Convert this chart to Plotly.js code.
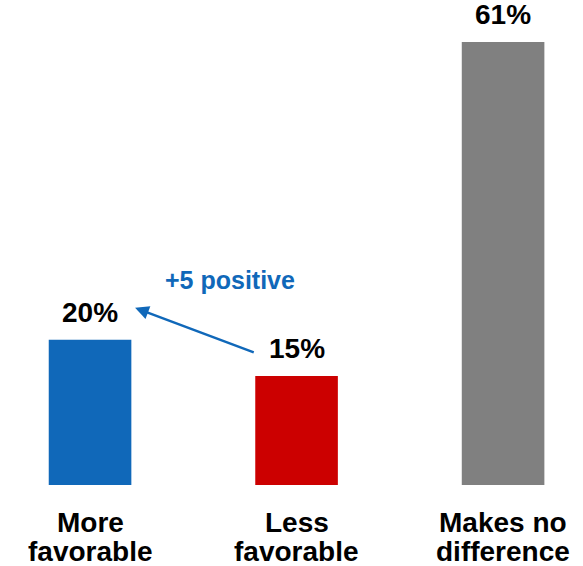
<!DOCTYPE html>
<html><head><meta charset="utf-8">
<script src="https://cdn.plot.ly/plotly-3.0.1.min.js"></script>
<style>html,body{margin:0;padding:0;background:#fff}#chart{width:583px;height:566px}</style>
</head><body><div id="chart"></div>
<script>
const categoryLine1 = ["More", "Less", "Makes no"];
const categoryLine2 = ["favorable", "favorable", "difference"];
const values = [20, 15, 61];
const valueLabels = ["20%", "15%", "61%"];
const barColors = ["#1068B9", "#CC0000", "#808080"];
const changeLabel = "+5 positive";

const xs = [0, 1, 2];
const font = "'Liberation Sans', Arial, sans-serif";

const annotations = xs.map((x, i) => ({
  x: x, y: values[i], xref: 'x', yref: 'y', text: '<b>' + valueLabels[i] + '</b>',
  showarrow: false, yanchor: 'bottom', yshift: 10,
  font: {family: font, size: 28, color: '#000'}
}));
xs.forEach((x, i) => {
  annotations.push({
    x: x, y: 0, xref: 'x', yref: 'paper', text: '<b>' + categoryLine1[i] + '</b>',
    showarrow: false, yanchor: 'top', yshift: -20,
    font: {family: font, size: 28, color: '#000'}
  });
  annotations.push({
    x: x, y: 0, xref: 'x', yref: 'paper', text: '<b>' + categoryLine2[i] + '</b>',
    showarrow: false, yanchor: 'top', yshift: -49,
    font: {family: font, size: 28, color: '#000'}
  });
});
annotations.push({
  x: 0.218, y: 24.4, ax: 0.80, ay: 18.2, xref: 'x', yref: 'y', axref: 'x', ayref: 'y',
  text: '', showarrow: true, arrowhead: 2, arrowsize: 1.1, arrowwidth: 2.5, arrowcolor: '#1068B9'
});
annotations.push({
  x: 0.678, y: 28.2, xref: 'x', yref: 'y', text: '<b>' + changeLabel + '</b>',
  showarrow: false, font: {family: font, size: 25, color: '#1068B9'}
});

Plotly.newPlot('chart', [{
  type: 'bar', x: xs, y: values, marker: {color: barColors}, width: 0.4,
  hoverinfo: 'skip'
}], {
  width: 583, height: 566,
  margin: {l: 0, r: 0, t: 0, b: 81, pad: 0},
  paper_bgcolor: '#fff', plot_bgcolor: '#fff',
  showlegend: false,
  xaxis: {range: [-0.436, 2.387], autorange: false, showticklabels: false,
    showgrid: false, zeroline: false, showline: false, ticks: '', fixedrange: true},
  yaxis: {range: [0, 66.8], autorange: false, visible: false, fixedrange: true},
  annotations: annotations
}, {displayModeBar: false, staticPlot: true});
</script></body></html>
